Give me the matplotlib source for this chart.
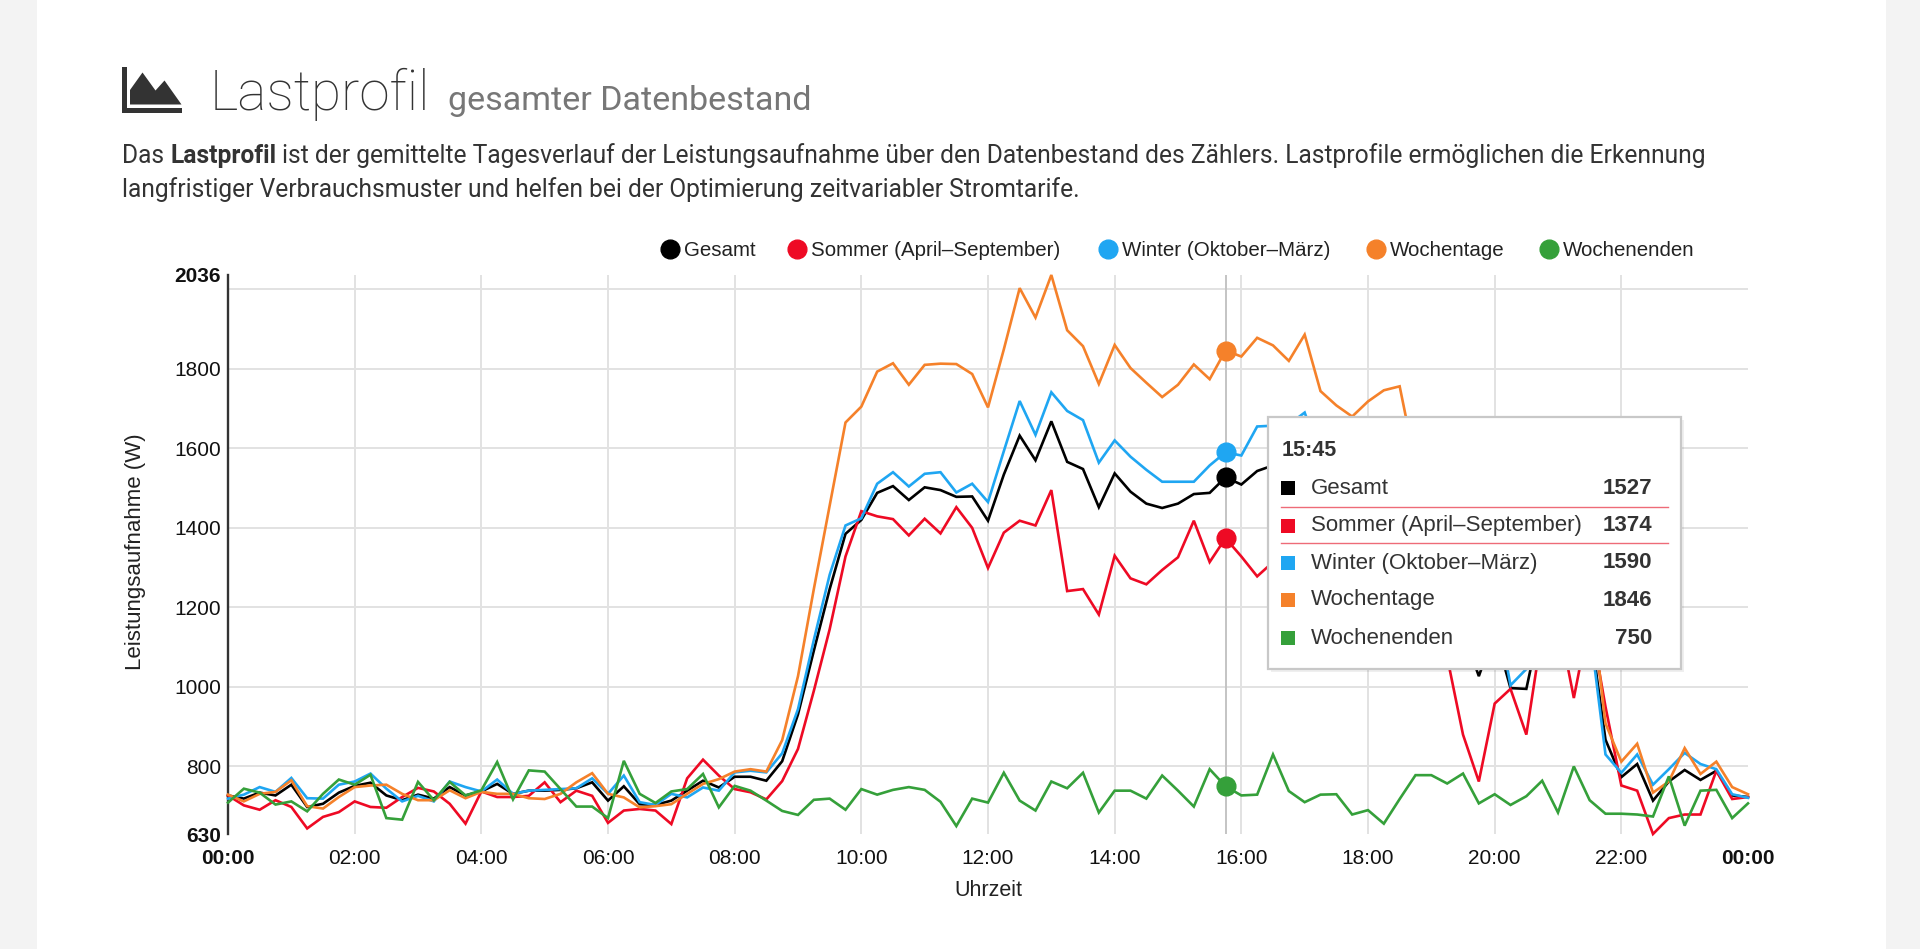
import numpy as np
import matplotlib
matplotlib.use("Agg")
import matplotlib.pyplot as plt
from matplotlib.patches import Rectangle, Polygon
from matplotlib.lines import Line2D

# ---------------- data (15-minute mean load profile, W) ----------------
gesamt = [727, 719, 734, 727, 754, 698, 706, 734, 751, 759, 727, 715, 729, 719, 748, 727,
          737, 756, 731, 739, 739, 741, 745, 760, 714, 750, 705, 703, 714, 739, 764, 747,
          774, 774, 764, 813, 931, 1091, 1246, 1385, 1420, 1488, 1505, 1470, 1502, 1495, 1478, 1479,
          1418, 1534, 1632, 1570, 1668, 1566, 1548, 1452, 1537, 1491, 1461, 1450, 1461, 1485, 1488, 1527,
          1509, 1543, 1557, 1570, 1600, 1490, 1455, 1430, 1470, 1500, 1515, 1390, 1300, 1235, 1140, 1027,
          1140, 997, 995, 1180, 1250, 1170, 1155, 867, 773, 806, 714, 762, 791, 766, 789, 727, 723]
sommer = [727, 702, 691, 715, 698, 644, 673, 685, 712, 698, 696, 723, 746, 737, 706, 656,
          737, 723, 723, 726, 760, 710, 739, 726, 658, 689, 693, 689, 655, 770, 817, 777,
          743, 735, 717, 763, 844, 990, 1145, 1328, 1442, 1429, 1422, 1381, 1423, 1386, 1452, 1400,
          1299, 1388, 1418, 1406, 1495, 1241, 1246, 1182, 1330, 1273, 1258, 1294, 1326, 1418, 1314, 1374,
          1328, 1278, 1314, 1350, 1400, 1300, 1280, 1250, 1300, 1320, 1340, 1250, 1200, 1075, 880, 762,
          958, 995, 880, 1140, 1176, 972, 1176, 950, 752, 739, 630, 670, 679, 679, 789, 718, 723]
winter = [719, 729, 748, 736, 771, 720, 719, 754, 762, 782, 744, 712, 726, 712, 762, 748,
          737, 767, 731, 739, 741, 743, 745, 770, 731, 777, 710, 703, 731, 722, 747, 739,
          785, 789, 785, 833, 944, 1118, 1282, 1406, 1424, 1511, 1540, 1504, 1536, 1540, 1489, 1511,
          1465, 1593, 1719, 1634, 1741, 1694, 1671, 1564, 1620, 1579, 1546, 1516, 1516, 1516, 1557, 1590,
          1582, 1655, 1657, 1660, 1690, 1580, 1540, 1520, 1560, 1590, 1600, 1450, 1340, 1300, 1250, 1135,
          1220, 1004, 1045, 1200, 1280, 1250, 1150, 830, 784, 830, 754, 793, 834, 806, 793, 730, 721]
wochentage = [729, 712, 731, 736, 765, 700, 694, 723, 748, 752, 754, 731, 715, 715, 740, 720,
              736, 731, 731, 720, 718, 731, 760, 783, 731, 722, 697, 700, 705, 731, 756, 768,
              787, 793, 787, 866, 1027, 1246, 1456, 1665, 1705, 1793, 1814, 1760, 1810, 1813, 1812, 1787,
              1703, 1849, 2003, 1929, 2036, 1897, 1857, 1762, 1860, 1802, 1765, 1729, 1760, 1811, 1774, 1846,
              1831, 1878, 1859, 1820, 1886, 1744, 1708, 1680, 1718, 1746, 1756, 1560, 1420, 1350, 1280, 1180,
              1250, 1150, 1190, 1300, 1350, 1320, 1250, 908, 812, 857, 734, 762, 846, 781, 812, 748, 730]
wochenenden = [709, 744, 734, 704, 712, 687, 731, 767, 754, 779, 670, 666, 761, 715, 761, 727,
               740, 811, 717, 790, 787, 743, 699, 699, 670, 814, 731, 708, 737, 743, 781, 697,
               751, 739, 714, 688, 678, 716, 719, 691, 743, 729, 741, 748, 741, 711, 650, 719,
               709, 784, 714, 689, 762, 745, 784, 684, 739, 739, 719, 777, 739, 699, 793, 750,
               727, 729, 830, 738, 710, 729, 730, 679, 690, 656, 718, 778, 778, 757, 782, 707,
               730, 703, 725, 764, 684, 800, 715, 681, 681, 679, 674, 775, 651, 739, 741, 670, 707]

series_names = ["Gesamt", "Sommer (April–September)", "Winter (Oktober–März)", "Wochentage", "Wochenenden"]
series_colors = ["#000000", "#ee0a24", "#1fa6f2", "#f5812a", "#35a03a"]
x_tick_labels = ["00:00", "02:00", "04:00", "06:00", "08:00", "10:00", "12:00",
                 "14:00", "16:00", "18:00", "20:00", "22:00", "00:00"]
y_tick_values = [630, 800, 1000, 1200, 1400, 1600, 1800, 2036]
y_grid_values = [800, 1000, 1200, 1400, 1600, 1800, 2000]
hover_index = 63
hover_label = "15:45"

all_series = [gesamt, sommer, winter, wochentage, wochenenden]

# ---------------- figure ----------------
W, H = 1920, 949
fig = plt.figure(figsize=(W / 100, H / 100), dpi=100)
fig.patch.set_facecolor("#f3f3f3")


def fx(px):
    return px / W


def fy(py):
    return 1 - py / H


CHART_FONT = ["Liberation Sans", "DejaVu Sans"]
PAGE_FONT = ["Roboto", "DejaVu Sans"]

# white card
fig.add_artist(Rectangle((fx(37), 0), fx(1886) - fx(37), 1, transform=fig.transFigure,
                         facecolor="white", edgecolor="none", zorder=-10))

# ---------------- header ----------------
icon_col = "#333333"
fig.add_artist(Rectangle((fx(122.5), fy(112.7)), fx(4.3), fy(67.3) - fy(112.7),
                         transform=fig.transFigure, facecolor=icon_col, edgecolor="none"))
fig.add_artist(Rectangle((fx(122.5), fy(112.7)), fx(181.5) - fx(122.5), fy(108.3) - fy(112.7),
                         transform=fig.transFigure, facecolor=icon_col, edgecolor="none"))
mountain = [(130, 104.5), (130, 90), (142.5, 72.5), (155.5, 90.5), (164.5, 80.5), (181.5, 104.5)]
fig.add_artist(Polygon([(fx(a), fy(b)) for a, b in mountain], closed=True, transform=fig.transFigure,
                       facecolor=icon_col, edgecolor="none"))

renderer = fig.canvas.get_renderer()

t_title = fig.text(fx(210), fy(110), "Lastprofil", fontsize=39.5, fontweight="light",
                   family=PAGE_FONT, color="#333333", va="baseline", ha="left")
bb = t_title.get_window_extent(renderer=renderer)
fig.text(fx(210) + (bb.width + 17) / W, fy(110), "gesamter Datenbestand", fontsize=24.5,
         family=PAGE_FONT, color="#777777", va="baseline", ha="left")


def text_width(s, **kw):
    t = fig.text(0, 0, s, **kw)
    w = t.get_window_extent(renderer=renderer).width
    t.remove()
    return w


desc_kw = dict(fontsize=17.7, family=PAGE_FONT, color="#333333", va="baseline", ha="left")
space_w = text_width("a a", **desc_kw) - text_width("aa", **desc_kw)
parts = [("Das", "normal"), ("Lastprofil", "bold"),
         ("ist der gemittelte Tagesverlauf der Leistungsaufnahme über den Datenbestand des Zählers. "
          "Lastprofile ermöglichen die Erkennung", "normal")]
xpos = 122
for s, wt in parts:
    t = fig.text(fx(xpos), fy(163), s, fontweight=wt, **desc_kw)
    xpos += t.get_window_extent(renderer=renderer).width + space_w
fig.text(fx(122), fy(196.5), "langfristiger Verbrauchsmuster und helfen bei der Optimierung zeitvariabler Stromtarife.",
         **desc_kw)

# ---------------- legend ----------------
legend_circle_x = [670, 797, 1108, 1376, 1549]
for name, col, cx in zip(series_names, series_colors, legend_circle_x):
    fig.add_artist(Line2D([fx(cx)], [fy(248.5)], marker="o", markersize=13.5, color=col,
                          linestyle="none", transform=fig.transFigure))
    fig.text(fx(cx + 14), fy(248.5), name, fontsize=14.8, family=CHART_FONT, color="#222222",
             va="center_baseline", ha="left")

# ---------------- chart ----------------
ax = fig.add_axes([fx(228), fy(834), fx(1748) - fx(228), fy(275) - fy(834)])
ax.set_facecolor("none")
x = np.arange(len(gesamt)) / 4.0
ax.set_xlim(0, 24)
ax.set_ylim(min(y_tick_values), max(y_tick_values))

for v in y_grid_values:
    ax.axhline(v, color="#e2e2e2", lw=1.4, zorder=0)
for h in range(2, 24, 2):
    ax.axvline(h, color="#e2e2e2", lw=1.4, zorder=0)
ax.axvline(x[hover_index], color="#c4c4c4", lw=1.4, zorder=1)

for s, col in zip(all_series, series_colors):
    ax.plot(x, s, color=col, lw=1.9, zorder=3, clip_on=False, solid_joinstyle="miter")
for s, col in zip(all_series, series_colors):
    ax.plot([x[hover_index]], [s[hover_index]], "o", ms=13.5, color=col, zorder=5, clip_on=False)

for side in ["top", "right", "bottom"]:
    ax.spines[side].set_visible(False)
ax.spines["left"].set_color("#333333")
ax.spines["left"].set_linewidth(1.7)

ax.set_xticks(range(0, 25, 2))
ax.set_xticklabels(x_tick_labels)
ax.set_yticks(y_tick_values)
ax.set_yticklabels([str(v) for v in y_tick_values])
ax.tick_params(axis="both", length=0, labelsize=15, labelcolor="#111111")
ax.tick_params(axis="x", pad=11)
ax.tick_params(axis="y", pad=5)
for lab in ax.get_xticklabels() + ax.get_yticklabels():
    lab.set_family(CHART_FONT)
for lab in [ax.get_xticklabels()[0], ax.get_xticklabels()[-1], ax.get_yticklabels()[0],
            ax.get_yticklabels()[-1]]:
    lab.set_fontweight("bold")

fig.text(fx(136), fy(552), "Leistungsaufnahme (W)", rotation=90, fontsize=16, family=CHART_FONT,
         color="#222222", ha="center", va="center")
fig.text(fx(988), fy(891), "Uhrzeit", fontsize=15.5, family=CHART_FONT, color="#222222",
         ha="center", va="center")

# ---------------- tooltip ----------------
tx0, ty0, tx1, ty1 = 1268, 417, 1681, 669
fig.add_artist(Rectangle((fx(tx0 + 3), fy(ty1 + 3)), fx(tx1) - fx(tx0), fy(ty0) - fy(ty1),
                         transform=fig.transFigure, facecolor="#00000010", edgecolor="none", zorder=9))
fig.add_artist(Rectangle((fx(tx0), fy(ty1)), fx(tx1) - fx(tx0), fy(ty0) - fy(ty1),
                         transform=fig.transFigure, facecolor="white", edgecolor="#c8c8c8", lw=1.6, zorder=10))
fig.text(fx(1282), fy(451), hover_label, fontsize=15.5, fontweight="bold", family=CHART_FONT,
         color="#333333", ha="left", va="center", zorder=11)
row_y = [488, 525.5, 563, 600, 638]
for name, col, s, ry in zip(series_names, series_colors, all_series, row_y):
    fig.add_artist(Rectangle((fx(1281), fy(ry + 7)), fx(14), fy(ry - 7) - fy(ry + 7),
                             transform=fig.transFigure, facecolor=col, edgecolor="none", zorder=11))
    fig.text(fx(1311), fy(ry), name, fontsize=16, family=CHART_FONT, color="#333333",
             ha="left", va="center", zorder=11)
    fig.text(fx(1652), fy(ry), str(s[hover_index]), fontsize=16, fontweight="bold", family=CHART_FONT,
             color="#333333", ha="right", va="center", zorder=11)
for ly in [507.3, 542.5]:
    fig.add_artist(Line2D([fx(1281), fx(1668)], [fy(ly), fy(ly)], color="#ee6b78", lw=1.0,
                          transform=fig.transFigure, zorder=11))

fig.savefig("out.png", dpi=100, facecolor=fig.get_facecolor())
